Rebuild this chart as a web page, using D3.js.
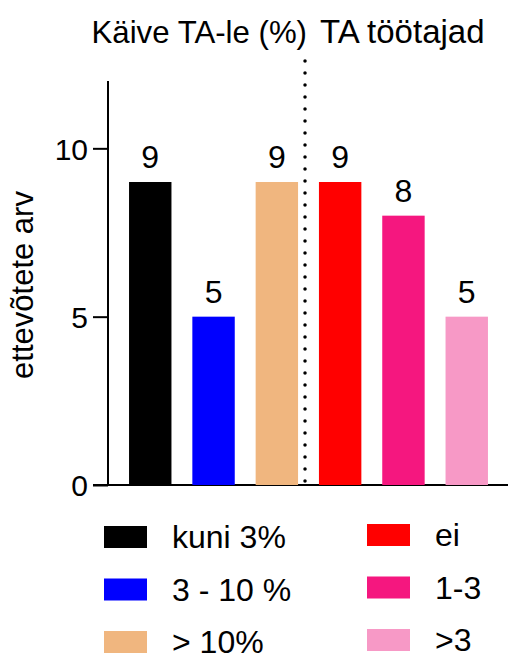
<!DOCTYPE html>
<html><head><meta charset="utf-8">
<script src="https://cdn.jsdelivr.net/npm/d3@7"></script>
<style>body{margin:0;background:#fff}svg{display:block;font-family:"Liberation Sans",Arial,sans-serif}</style>
</head><body>
<svg id="c" width="508" height="660"></svg>
<script>
const categories = ["kuni 3%", "3 - 10 %", "> 10%", "ei", "1-3", ">3"];
const values = [9, 5, 9, 9, 8, 5];
const colors = ["#000000", "#0000FF", "#F0B67F", "#FF0000", "#F5177F", "#F799C6"];
const groupTitles = ["Käive TA-le (%)", "TA töötajad"];
const yTicks = [0, 5, 10];
const yTitle = "ettevõtete arv";

const svg = d3.select("#c");
const y = d3.scaleLinear().domain([0, 12]).range([485, 81]);
const x = d3.scaleBand().domain(categories).range([118.6, 498.4]).paddingInner(0.33).paddingOuter(0.165);

// y axis
const yAxis = svg.append("g").attr("transform", "translate(108,0)")
  .call(d3.axisLeft(y).tickValues(yTicks).tickSize(15).tickPadding(5).tickFormat(d3.format("d")));
yAxis.select(".domain").attr("stroke-width", 2).attr("d", `M0,${y(12)}V${y(0)}`);
yAxis.selectAll(".tick line").attr("stroke-width", 2);
yAxis.selectAll(".tick text").attr("font-size", 30).attr("fill", "#000").attr("font-family", "Liberation Sans, Arial, sans-serif").attr("dy", "0.36em");

// x baseline
svg.append("line").attr("x1", 93).attr("x2", 508).attr("y1", y(0)).attr("y2", y(0))
  .attr("stroke", "#000").attr("stroke-width", 2);

// bars
svg.selectAll("rect.bar").data(categories).join("rect").attr("class", "bar")
  .attr("x", d => x(d)).attr("width", x.bandwidth())
  .attr("y", (d, i) => y(values[i])).attr("height", (d, i) => y(0) - y(values[i]))
  .attr("fill", (d, i) => colors[i]);

// value labels
svg.selectAll("text.val").data(categories).join("text").attr("class", "val")
  .attr("x", d => x(d) + x.bandwidth() / 2).attr("y", (d, i) => y(values[i]) - 14)
  .attr("text-anchor", "middle").attr("font-size", 32).text((d, i) => values[i]);

// divider
const divX = x(categories[2]) + x.bandwidth() + x.step() * 0.11;
svg.append("line").attr("x1", divX).attr("x2", divX).attr("y1", 61).attr("y2", y(0))
  .attr("stroke", "#000").attr("stroke-width", 3.5).attr("stroke-linecap", "round").attr("stroke-dasharray", "0,12");

// group titles
svg.append("text").attr("x", divX + 2).attr("y", 43).attr("text-anchor", "end").attr("font-size", 31.2).text(groupTitles[0]);
svg.append("text").attr("x", divX + 15).attr("y", 43).attr("text-anchor", "start").attr("font-size", 33).text(groupTitles[1]);

// y title
svg.append("text").attr("transform", "translate(33,285) rotate(-90)").attr("text-anchor", "middle")
  .attr("font-size", 31).text(yTitle);

// legend
const leg = svg.append("g");
categories.forEach((c, i) => {
  const col = Math.floor(i / 3), row = i % 3;
  const sx = col === 0 ? 104 : 367;
  const sy = (col === 0 ? 526 : 524) + row * 52.5;
  leg.append("rect").attr("x", sx).attr("y", sy).attr("width", 43).attr("height", 22).attr("fill", colors[i]);
  leg.append("text").attr("x", sx + 68).attr("y", sy + 22).attr("font-size", 32).text(c);
});
</script>
</body></html>
